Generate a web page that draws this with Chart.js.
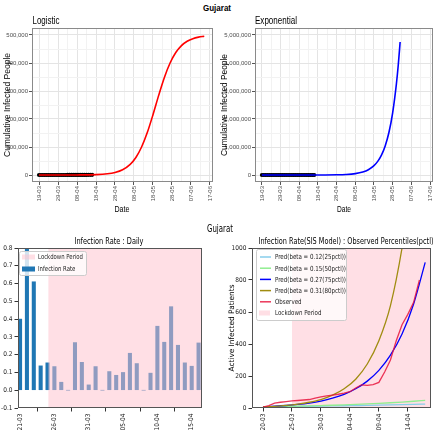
<!DOCTYPE html>
<html>
<head>
<meta charset="utf-8">
<script src="https://cdn.jsdelivr.net/npm/chart.js@4.4.1/dist/chart.umd.min.js"></script>
<style>
  body { margin: 0; background: #fff; width: 440px; height: 435px; position: relative; overflow: hidden; }
  canvas { position: absolute; }
  .t { position: absolute; white-space: nowrap; line-height: 1; color: #000; }
</style>
</head>
<body>
<canvas id="logi" width="220" height="200" style="left:0;top:20px"></canvas>
<canvas id="expo" width="220" height="200" style="left:220px;top:20px"></canvas>
<canvas id="rate" width="220" height="195" style="left:0;top:240px"></canvas>
<canvas id="sis" width="220" height="195" style="left:220px;top:240px"></canvas>
<script>
// ---- top: cumulative fits (day 0 = 19-03) ----
const topTickDays = [0, 10, 20, 30, 40, 50, 60, 70, 80, 90];
const topTickLabels = ['19-03', '29-03', '08-04', '18-04', '28-04', '08-05', '18-05', '28-05', '07-06', '17-06'];
const topMinorDays = [5, 15, 25, 35, 45, 55, 65, 75, 85];

const obsDays = [0,1,2,3,4,5,6,7,8,9,10,11,12,13,14,15,16,17,18,19,20,21,22,23,24,25,26,27,28];
const obsCumulative = [2,7,13,18,30,33,38,43,47,55,58,69,73,74,87,95,105,122,144,165,179,186,241,308,378,432,516,650,766];

const logiDays = [0,10,20,30,36,40,44,48,51,54,57,60,63,66,69,72,75,78,81,84,87];
const logiVals = [6,36,230,1470,4420,9190,18900,38200,62700,100000,151500,215500,284400,348500,400000,437400,462100,477500,486900,492300,495600];
const logiYTicks = [0, 100000, 200000, 300000, 400000, 500000];
const logiYMinor = [50000, 150000, 250000, 350000, 450000];

const expDays = [0,10,20,30,40,45,50,54,57,60,62,64,66,68,70,72,73,74];
const expVals = [4,25,170,1110,7440,19200,49700,106000,188000,332000,486000,710000,1039000,1519000,2222000,3249000,3928000,4750000];
const expYTicks = [0, 1000000, 2000000, 3000000, 4000000, 5000000];
const expYMinor = [500000, 1500000, 2500000, 3500000, 4500000];

// ---- bottom left: daily infection rate (day 0 = 21-03) ----
const rateTickDays = [0, 5, 10, 15, 20, 25];
const rateTickLabels = ['21-03', '26-03', '31-03', '05-04', '10-04', '15-04'];
const rateDays = [0,1,2,3,4,5,6,7,8,9,10,11,12,13,14,15,16,17,18,19,20,21,22,23,24,25,26];
const rateVals = [0.40,0.95,0.61,0.137,0.154,0.133,0.045,0,0.268,0.157,0.03,0.133,0,0.105,0.084,0.10,0.208,0.15,0,0.096,0.36,0.27,0.47,0.253,0.154,0.135,0.266];
const rateYTicks = [-0.1, 0, 0.1, 0.2, 0.3, 0.4, 0.5, 0.6, 0.7, 0.8];
const rateLockdown = [4.1, 26.5];

// ---- bottom right: SIS model (day 0 = 20-03) ----
const sisTickDays = [0, 5, 10, 15, 20, 25];
const sisTickLabels = ['20-03', '25-03', '30-03', '04-04', '09-04', '14-04'];
const sisYTicks = [0, 200, 400, 600, 800, 1000];
const predDays = [0,2,4,6,8,10,12,14,16,18,20,22,24,26,28];
const pred25 = [8,8.7,9.4,10.2,11,11.9,12.9,14,15.2,16.4,17.8,19.3,20.9,22.6,24.5];
const pred50 = [8,9.1,10.3,11.7,13.3,15.2,17.2,19.6,22.3,25.3,28.8,32.7,37.2,42.3,48];
const pred75 = [8,11.2,15.7,22.1,31,43.4,61,85,120,168,235,330,462,650,910];
const pred80 = [7,10.5,16,24,36,53,80,120,180,275,420,640,1000,1500,2200];
const observedDays = [0,1,2,3,4,5,6,7,8,9,10,11,12,13,14,15,16,17,18,19,20,21,22,23,24,25,26,27];
const observedActive = [5,15,30,36,40,44,47,50,53,62,70,76,81,86,93,102,125,145,142,146,160,225,300,420,520,585,660,800];
const sisLockdown = [5, 29];

const pink = 'rgba(255,192,203,0.5)';
const pts = (xs, ys) => xs.map((x, i) => ({ x, y: ys[i] }));

const framePlugin = {
  id: 'frame',
  afterDraw(chart, args, opts) {
    const a = chart.chartArea, ctx = chart.ctx;
    ctx.save();
    ctx.strokeStyle = opts.color || '#444';
    ctx.lineWidth = 1;
    ctx.strokeRect(Math.round(a.left) + 0.5, Math.round(a.top) + 0.5, Math.round(a.right - a.left) - 1, Math.round(a.bottom - a.top) - 1);
    ctx.restore();
  }
};

const legendPlugin = {
  id: 'boxLegend',
  afterDraw(chart, args, o) {
    if (!o || !o.show) return;
    const ctx = chart.ctx, sets = chart.data.datasets;
    ctx.save();
    ctx.fillStyle = 'rgba(255,255,255,0.8)';
    ctx.strokeStyle = '#ccc';
    ctx.lineWidth = 1;
    ctx.beginPath();
    ctx.roundRect(o.x + 0.5, o.y + 0.5, o.w, o.h, 2);
    ctx.fill(); ctx.stroke();
    ctx.font = o.font;
    const sx = o.textW / ctx.measureText(sets[o.order[0]].label).width;
    o.order.forEach((di, r) => {
      const ds = sets[di], cy = o.y + o.firstRow + r * o.rowH;
      if (ds.legendKind === 'patch') {
        ctx.fillStyle = ds.backgroundColor;
        ctx.fillRect(o.x + 3, cy - 2.5, o.sampleW, 5);
      } else {
        ctx.strokeStyle = ds.borderColor;
        ctx.lineWidth = 1.5;
        ctx.beginPath(); ctx.moveTo(o.x + 4, cy); ctx.lineTo(o.x + 4 + o.sampleW, cy); ctx.stroke();
      }
      ctx.save();
      ctx.translate(o.x + o.textX, cy);
      ctx.scale(sx, 1);
      ctx.fillStyle = '#222';
      ctx.textBaseline = 'middle';
      ctx.fillText(ds.label, 0, 0.5);
      ctx.restore();
    });
    ctx.restore();
  }
};

const fixW = (w) => (s) => { s.width = w; };
const fixH = (h) => (s) => { s.height = h; };

function topChart(id, fitDays, fitVals, color, yMajor, yMinor, yWidth) {
  const xAll = topTickDays.concat(topMinorDays).sort((a, b) => a - b);
  const yAll = yMajor.concat(yMinor).sort((a, b) => a - b);
  const span = yMajor[yMajor.length - 1];
  const tickFont = { family: '"Liberation Sans", Arial, sans-serif', size: 6 };
  return new Chart(document.getElementById(id), {
    type: 'line',
    data: {
      datasets: [
        { label: 'fit', data: pts(fitDays, fitVals), borderColor: color, borderWidth: 1.6, pointRadius: 0, cubicInterpolationMode: 'monotone', order: 0 },
        { label: 'observed', data: pts(obsDays, obsCumulative), showLine: false, pointRadius: 2.1, pointBorderWidth: 0, pointBackgroundColor: '#000', order: 1 }
      ]
    },
    options: {
      responsive: false, animation: false, devicePixelRatio: 1,
      layout: { padding: { left: 0, right: 7, top: 8, bottom: 0 } },
      plugins: { legend: { display: false }, tooltip: { enabled: false }, frame: { color: '#8a8a8a' } },
      scales: {
        x: {
          type: 'linear', min: -3.7, max: 91.6,
          afterFit: fixH(38),
          afterBuildTicks: (s) => { s.ticks = xAll.map(v => ({ value: v })); },
          border: { display: false },
          grid: {
            color: (c) => topTickDays.includes(c.tick && c.tick.value) ? '#e4e4e4' : '#f2f2f2',
            tickColor: (c) => topTickDays.includes(c.tick && c.tick.value) ? '#555' : 'rgba(0,0,0,0)',
            tickLength: 3
          },
          ticks: {
            autoSkip: false, maxRotation: 90, minRotation: 90, padding: 1, color: '#4d4d4d', font: tickFont,
            callback: (v) => { const i = topTickDays.indexOf(v); return i < 0 ? '' : topTickLabels[i]; }
          }
        },
        y: {
          min: -0.05 * span, max: 1.05 * span,
          afterFit: fixW(yWidth),
          afterBuildTicks: (s) => { s.ticks = yAll.map(v => ({ value: v })); },
          border: { display: false },
          grid: {
            color: (c) => yMajor.includes(c.tick && c.tick.value) ? '#e4e4e4' : '#f2f2f2',
            tickColor: (c) => yMajor.includes(c.tick && c.tick.value) ? '#555' : 'rgba(0,0,0,0)',
            tickLength: 3
          },
          ticks: {
            autoSkip: false, padding: 1, color: '#4d4d4d', font: tickFont,
            callback: (v) => yMajor.includes(v) ? v.toLocaleString('en-US') : ''
          }
        }
      }
    },
    plugins: [framePlugin]
  });
}

topChart('logi', logiDays, logiVals, '#ff0000', logiYTicks, logiYMinor, 32);
topChart('expo', expDays, expVals, '#0000ff', expYTicks, expYMinor, 35);

const mplFont = { family: '"DejaVu Sans Condensed", "DejaVu Sans", sans-serif', size: 6.5 };
function mplX(min, max, vals, labels) {
  return {
    type: 'linear', min, max, offset: false,
    afterFit: fixH(27),
    afterBuildTicks: (s) => { s.ticks = vals.map(v => ({ value: v })); },
    border: { display: false },
    grid: { drawOnChartArea: false, tickLength: 3.5, tickColor: '#333' },
    ticks: {
      autoSkip: false, maxRotation: 90, minRotation: 90, padding: 2, color: '#222', font: mplFont,
      callback: (v) => labels[vals.indexOf(v)]
    }
  };
}
function mplY(min, max, vals, width, fmt) {
  return {
    min, max,
    afterFit: fixW(width),
    afterBuildTicks: (s) => { s.ticks = vals.map(v => ({ value: v })); },
    border: { display: false },
    grid: { drawOnChartArea: false, tickLength: 3.5, tickColor: '#333' },
    ticks: { autoSkip: false, padding: 2, color: '#222', font: mplFont, callback: fmt }
  };
}

new Chart(document.getElementById('rate'), {
  type: 'bar',
  data: {
    datasets: [
      { type: 'line', label: 'Lockdown Period', legendKind: 'patch', data: rateLockdown.map(x => ({ x, y: 0.8 })),
        fill: 'start', backgroundColor: pink, borderWidth: 0, pointRadius: 0, order: 0 },
      { type: 'bar', label: 'Infection Rate', legendKind: 'patch', data: pts(rateDays, rateVals),
        backgroundColor: '#1f77b4', barThickness: 3.4, order: 1 }
    ]
  },
  options: {
    responsive: false, animation: false, devicePixelRatio: 1,
    layout: { padding: { left: 0, right: 18, top: 8, bottom: 0 } },
    plugins: {
      legend: { display: false }, tooltip: { enabled: false }, frame: { color: '#555' },
      boxLegend: { show: true, x: 19, y: 11, w: 67, h: 24, firstRow: 6, rowH: 12, sampleW: 13, textX: 19, textW: 45,
        order: [0, 1], font: '7px "DejaVu Sans Condensed", "DejaVu Sans", sans-serif' }
    },
    scales: {
      x: mplX(-0.3, 26.5, rateTickDays, rateTickLabels),
      y: mplY(-0.1, 0.8, rateYTicks, 18, (v) => v.toFixed(1))
    }
  },
  plugins: [framePlugin, legendPlugin]
});

new Chart(document.getElementById('sis'), {
  type: 'line',
  data: {
    datasets: [
      { label: 'Pred(beta = 0.12(25pctl))', data: pts(predDays, pred25), borderColor: '#87ceeb', order: 5 },
      { label: 'Pred(beta = 0.15(50pctl))', data: pts(predDays, pred50), borderColor: '#90ee90', order: 4 },
      { label: 'Pred(beta = 0.27(75pctl))', data: pts(predDays, pred75), borderColor: '#0000ff', order: 3 },
      { label: 'Pred(beta = 0.31(80pctl))', data: pts(predDays, pred80), borderColor: '#a08c10', order: 2 },
      { label: 'Observed', data: pts(observedDays, observedActive), borderColor: 'rgba(232,20,60,0.85)', tension: 0, cubicInterpolationMode: 'default', order: 1 },
      { label: 'Lockdown Period', legendKind: 'patch', data: sisLockdown.map(x => ({ x, y: 1000 })),
        fill: 'start', backgroundColor: pink, borderWidth: 0, order: 10 }
    ]
  },
  options: {
    responsive: false, animation: false, devicePixelRatio: 1,
    elements: { point: { radius: 0 }, line: { borderWidth: 1.3, cubicInterpolationMode: 'monotone' } },
    layout: { padding: { left: 0, right: 9, top: 8, bottom: 0 } },
    plugins: {
      legend: { display: false }, tooltip: { enabled: false }, frame: { color: '#555' },
      boxLegend: { show: true, x: 36, y: 9, w: 90, h: 71, firstRow: 8, rowH: 11.2, sampleW: 11, textX: 19, textW: 71,
        order: [0, 1, 2, 3, 4, 5], font: '7px "DejaVu Sans Condensed", "DejaVu Sans", sans-serif' }
    },
    scales: {
      x: mplX(-1.9, 29, sisTickDays, sisTickLabels),
      y: mplY(0, 1000, sisYTicks, 32, (v) => String(v))
    }
  },
  plugins: [framePlugin, legendPlugin]
});

// ---- text labels ----
const texts = [
  { s: 'Gujarat', x: 217, y: 8, w: 28, f: 'bold 8.5px "Liberation Sans", Arial, sans-serif' },
  { s: 'Logistic', x: 45.5, y: 20, w: 27, f: '10px "Liberation Sans", Arial, sans-serif' },
  { s: 'Exponential', x: 276, y: 20, w: 42, f: '10px "Liberation Sans", Arial, sans-serif' },
  { s: 'Cumulative Infected People', x: 7, y: 105, w: 104, rot: true, f: '8.5px "Liberation Sans", Arial, sans-serif' },
  { s: 'Cumulative Infected People', x: 224, y: 105, w: 102, rot: true, f: '8.5px "Liberation Sans", Arial, sans-serif' },
  { s: 'Date', x: 122, y: 209, w: 15, f: '8.5px "Liberation Sans", Arial, sans-serif' },
  { s: 'Date', x: 344, y: 209, w: 14, f: '8.5px "Liberation Sans", Arial, sans-serif' },
  { s: 'Gujarat', x: 220, y: 228, w: 26, f: '10px "DejaVu Sans", sans-serif' },
  { s: 'Infection Rate : Daily', x: 108.5, y: 241, w: 69, f: '8.5px "DejaVu Sans", sans-serif' },
  { s: 'Infection Rate(SIS Model) : Observed Percentiles(pctl)', x: 345.5, y: 241, w: 175, f: '8.5px "DejaVu Sans", sans-serif' },
  { s: 'Active Infected Patients', x: 231, y: 328, w: 87, rot: true, f: '7.5px "DejaVu Sans", sans-serif' }
];
texts.forEach(t => {
  const el = document.createElement('div');
  el.className = 't';
  el.textContent = t.s;
  el.style.font = t.f;
  el.style.left = t.x + 'px';
  el.style.top = t.y + 'px';
  document.body.appendChild(el);
  const k = t.w / el.getBoundingClientRect().width;
  el.style.transform = 'translate(-50%,-50%)' + (t.rot ? ' rotate(-90deg)' : '') + ' scaleX(' + k + ')';
});
</script>
</body>
</html>
